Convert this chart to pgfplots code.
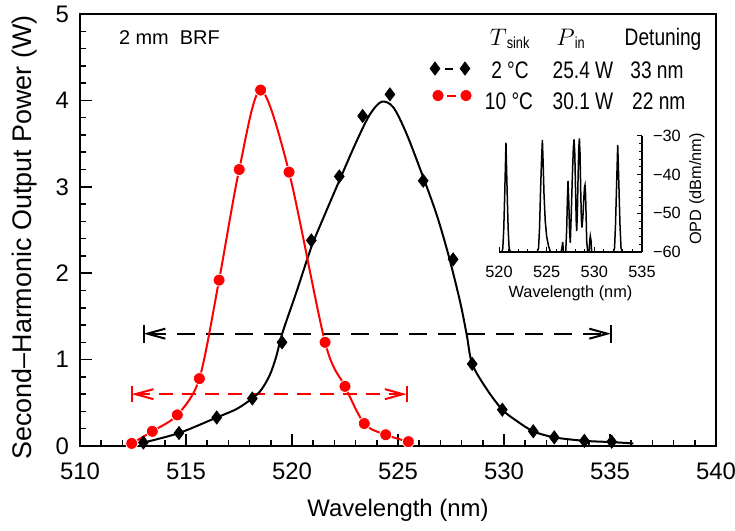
\documentclass[border=0pt]{standalone}
\usepackage{fontspec}
\setmainfont{Liberation Sans}
\usepackage{pgfplots}
\pgfplotsset{compat=1.18}
\usetikzlibrary{arrows.meta}

\newcommand\lsize{\fontsize{12}{14}\selectfont}
\newcommand\ssize{\fontsize{8.2}{10}\selectfont}
\newcommand\strutrow{\rule[-4bp]{0pt}{13bp}}
\newcommand\nar[1]{\scalebox{0.8}[1]{#1}}

\begin{document}
\begin{tikzpicture}
\useasboundingbox (-40bp,-42.5bp) rectangle (327.5bp,223bp);
\begin{axis}[
  scale only axis, width=318bp, height=216bp, at={(0,0)}, anchor=south west,
  xmin=510, xmax=540, ymin=0, ymax=5,
  xtick={510,515,...,540}, ytick={0,1,...,5},
  minor x tick num=4, minor y tick num=4,
  xtick pos=bottom, ytick pos=left, tick align=inside,
  major tick length=6bp, minor tick length=3bp,
  axis line style={line width=1bp}, every tick/.style={black, line width=0.75bp},
  /pgf/number format/assume math mode=true,
  tick label style={font=\lsize},
  xticklabel style={yshift=-5bp}, yticklabel style={xshift=-2bp},
  xlabel={Wavelength (nm)}, ylabel={Second–Harmonic Output Power (W)},
  every axis x label/.style={at={(axis description cs:0.5,0)}, yshift=-32bp, anchor=center, font=\lsize},
  every axis y label/.style={at={(axis description cs:0,0.4826)}, xshift=-27.5bp, rotate=90, anchor=center, font=\fontsize{13.5}{16}\selectfont},
  legend style={draw=none, fill=none, at={(rel axis cs:0.5505,0.9675)}, anchor=north west,
    inner sep=0pt, outer sep=0pt, row sep=3bp, column sep=0pt,
    nodes={inner sep=0pt, font=\lsize}},
  legend cell align=left,
]
% dashed tuning ranges
\draw[black, line width=1bp, dash pattern=on 9bp off 5.5bp,
  {Straight Barb[length=9bp,width=5bp]}-{Straight Barb[length=9bp,width=5bp]}]
  (axis cs:513.0,1.3) -- (axis cs:535.05,1.3);
\draw[black, line width=1bp] (axis cs:513.0,1.195) -- (axis cs:513.0,1.405)
  (axis cs:535.05,1.195) -- (axis cs:535.05,1.405);
\draw[red, line width=1bp, dash pattern=on 7bp off 4.5bp,
  {Straight Barb[length=9bp,width=5bp]}-{Straight Barb[length=9bp,width=5bp]}]
  (axis cs:512.44,0.6) -- (axis cs:525.41,0.6);
\draw[red, line width=1bp] (axis cs:512.44,0.505) -- (axis cs:512.44,0.695)
  (axis cs:525.41,0.505) -- (axis cs:525.41,0.695);

% fitted curve, 2 C
\addplot[black, line width=1bp, smooth, forget plot] coordinates {
  (513.0,0.04) (514.67,0.15) (516.45,0.33) (517.4,0.43) (518.13,0.552)
  (518.55,0.65) (518.95,0.82) (519.25,1.03) (519.55,1.31) (520.22,1.79)
  (520.91,2.30) (521.48,2.64) (522.23,3.07)
  (523.05,3.53) (523.68,3.84) (524.23,3.985) (524.78,3.92) (525.41,3.61)
  (526.19,3.11) (526.82,2.68) (527.37,2.22) (527.92,1.68) (528.24,1.29)
  (528.5,0.95) (529.18,0.66) (529.92,0.42) (530.6,0.29) (531.38,0.17)
  (532.37,0.10) (533.79,0.06) (535.08,0.045) (536.1,0.03)};
% curve, 10 C
\addplot[red, line width=1bp, smooth, forget plot] coordinates {
  (512.44,0.03) (513.41,0.17) (514.59,0.36) (515.63,0.78) (516.56,1.92)
  (517.51,3.20) (518.52,4.12) (519.86,3.17) (521.56,1.20) (522.50,0.69)
  (523.41,0.26) (524.42,0.13) (525.49,0.05)};
% measured points
\addplot[only marks, mark=diamond*, mark size=3.25bp, black, forget plot] coordinates {
  (512.99,0.04) (514.67,0.15) (516.45,0.33) (518.13,0.55) (519.53,1.20)
  (520.91,2.38) (522.23,3.12) (523.33,3.82) (524.62,4.07) (526.19,3.07)
  (527.6,2.16) (528.5,0.95) (529.92,0.42) (531.38,0.17) (532.37,0.10)
  (533.79,0.06) (535.08,0.05)};
\addplot[only marks, mark=*, mark size=3bp, mark options={fill=red, draw=white, line width=0.4bp}, forget plot] coordinates {
  (512.44,0.03) (513.41,0.17) (514.59,0.36) (515.63,0.78) (516.56,1.92)
  (517.51,3.20) (518.52,4.12) (519.86,3.17) (521.56,1.20) (522.50,0.69)
  (523.41,0.26) (524.42,0.13) (525.49,0.05)};

\node[anchor=base west, font=\fontsize{10}{12}\selectfont] at (rel axis cs:0.0503,0.9304) {2 mm\ \ BRF};

% legend samples
\addlegendimage{empty legend}
\addlegendentry{\strutrow}
\addlegendimage{legend image code/.code={
  \draw[black, line width=1bp] (5bp,-1.5bp) -- (9bp,-1.5bp);
  \draw[black] plot[only marks, mark=diamond*, mark size=3.25bp] coordinates {(0bp,-1.5bp) (15bp,-1.5bp)};}}
\addlegendentry{\strutrow}
\addlegendimage{legend image code/.code={
  \draw[red, line width=1bp] (6bp,-1.5bp) -- (10.5bp,-1.5bp);
  \draw plot[only marks, mark=*, mark size=3bp, mark options={fill=red, draw=white, line width=0.4bp}] coordinates {(1.5bp,-1.5bp) (15.5bp,-1.5bp)};}}
\addlegendentry{\strutrow}

% legend table text
\begin{scope}[every node/.style={anchor=base, font=\lsize, inner sep=0pt}]
\node at (rel axis cs:0.6761,0.9281) {$T$\nar{\textsubscript{sink}}};
\node at (rel axis cs:0.7720,0.9281) {$P$\nar{\textsubscript{in}}};
\node at (rel axis cs:0.9167,0.9281) {\nar{Detuning}};
\node at (rel axis cs:0.6761,0.8515) {\nar{2 °C}};
\node at (rel axis cs:0.7909,0.8515) {\nar{25.4 W}};
\node at (rel axis cs:0.9072,0.8515) {\nar{33 nm}};
\node at (rel axis cs:0.6745,0.7796) {\nar{10 °C}};
\node at (rel axis cs:0.7909,0.7796) {\nar{30.1 W}};
\node at (rel axis cs:0.9100,0.7796) {\nar{22 nm}};
\end{scope}
\end{axis}

% inset: optical power density spectrum
\begin{axis}[
  scale only axis, width=71.5bp, height=58bp, at={(209.5bp,97bp)}, anchor=south west,
  xmin=520, xmax=535, ymin=-60, ymax=-30,
  axis x line*=bottom, axis y line*=right, axis line style={-, line width=0.75bp},
  tick align=inside, xtick={520,525,530,535}, ytick={-60,-50,-40,-30},
  yticklabels={−60,−50,−40,−30},
  minor x tick num=4, minor y tick num=4,
  major tick length=2.5bp, minor tick length=1.5bp,
  every tick/.style={black, line width=0.5bp},
  /pgf/number format/assume math mode=true,
  tick label style={font=\ssize},
  xticklabel style={yshift=-3.5bp}, yticklabel style={xshift=2bp},
  xlabel={Wavelength (nm)}, ylabel={OPD (dBm/nm)},
  every axis x label/.style={at={(axis description cs:0.5,0)}, yshift=-20.5bp, anchor=center, font=\ssize},
  every axis y label/.style={at={(axis description cs:1,0.543)}, xshift=27.5bp, rotate=90, anchor=center, font=\ssize},
]
\addplot[black, line width=0.75bp] coordinates {
  (520.0,-60) (520.3,-60) (520.4,-59) (520.5,-54) (520.6,-45) (520.67,-38)
  (520.73,-31.7) (520.79,-38) (520.86,-45) (520.96,-54) (521.06,-59) (521.2,-60)
  (524.0,-60) (524.15,-59) (524.25,-54) (524.35,-45) (524.45,-37) (524.55,-31.0)
  (524.63,-37) (524.72,-45) (524.85,-52) (525.0,-56) (525.2,-58.5) (525.4,-60)
  (526.5,-60) (526.6,-59) (526.68,-57.4) (526.76,-60)
  (527.0,-60) (527.1,-54) (527.18,-46) (527.24,-41.6) (527.32,-47) (527.4,-54.5)
  (527.48,-57.6) (527.58,-50) (527.7,-40) (527.8,-33) (527.87,-30.9) (527.95,-34.5)
  (528.03,-44) (528.1,-52) (528.15,-54.6) (528.22,-50) (528.3,-40) (528.37,-33)
  (528.43,-30.6) (528.5,-34.5) (528.57,-44) (528.64,-51.5) (528.7,-53.7) (528.8,-51)
  (528.9,-46) (528.97,-43.2) (529.02,-42.7) (529.08,-45) (529.14,-51) (529.2,-57.2)
  (529.3,-60) (529.45,-60) (529.52,-57) (529.58,-55.9) (529.65,-57) (529.72,-60)
  (532.0,-60) (532.12,-59) (532.22,-53) (532.32,-44) (532.4,-37) (532.45,-32.3)
  (532.51,-37) (532.59,-44) (532.69,-53) (532.8,-59) (532.95,-60) (533.5,-60)};
\end{axis}
\end{tikzpicture}
\end{document}
